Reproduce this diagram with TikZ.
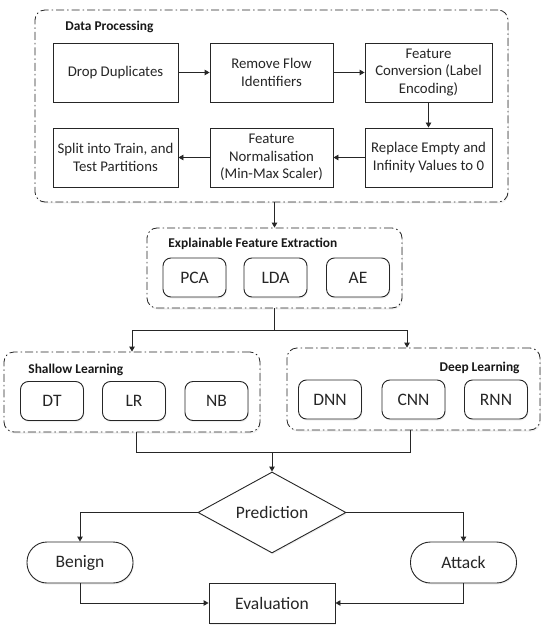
\documentclass[tikz,border=0pt]{standalone}
\usepackage{fontspec}
\setmainfont{Carlito}
\usetikzlibrary{shapes.geometric,arrows.meta,shadows}
\begin{document}
\begin{tikzpicture}[x=1pt,y=-1pt,
  line width=0.9pt,
  lc/.style={draw=black!85},
  shd/.style={drop shadow={opacity=0.12,shadow xshift=0.8pt,shadow yshift=-1.5pt}},
  proc/.style={lc, rectangle, minimum height=59pt, inner sep=1pt, align=center,
    text=black!85, font=\fontsize{14.8}{17.6}\selectfont},
  grp/.style={lc, fill=white, rectangle, rounded corners=10pt, line width=0.8pt,
    dash pattern=on 8pt off 3pt on 1.5pt off 3pt, shd},
  sbox/.style={lc, fill=white, rectangle, rounded corners=8pt, minimum width=63pt,
    minimum height=39pt, inner sep=1pt, text=black!85, font=\fontsize{17.5}{20}\selectfont, shd},
  glabel/.style={inner sep=0pt, text=black!90, font=\fontsize{13.4}{15}\selectfont\bfseries},
  term/.style={lc, fill=white, rectangle, rounded corners=20pt, minimum width=106pt,
    minimum height=41pt, inner sep=1pt, text=black!85, font=\fontsize{17.5}{20}\selectfont, shd},
  arr/.style={lc, -{Triangle[length=5pt,width=5.5pt]}},
  ln/.style={lc}
]
\useasboundingbox (0,0) rectangle (550,628);

% ---------- Data Processing ----------
\node[grp, minimum width=473pt, minimum height=192pt] (dp) at (271.5,106) {};
\node[glabel, anchor=west] (dplab) at (65,27) {Data Processing};

\node[proc, minimum width=125pt] (drop)   at (115.5,72.5) {Drop Duplicates};
\node[proc, minimum width=123pt] (remove) at (271.5,72.5) {Remove Flow\\Identifiers};
\node[proc, minimum width=127pt] (conv)   at (428.5,72.5) {Feature\\Conversion (Label\\Encoding)};
\node[proc, minimum width=127pt] (repl)   at (428.5,157.5) {Replace Empty and\\Infinity Values to 0};
\node[proc, minimum width=123pt] (norm)   at (271.5,157.5) {Feature\\Normalisation\\(Min-Max Scaler)};
\node[proc, minimum width=125pt] (split)  at (115.5,157.5) {Split into Train, and\\Test Partitions};

\draw[arr] (drop) -- (remove);
\draw[arr] (remove) -- (conv);
\draw[arr] (conv) -- (repl);
\draw[arr] (repl) -- (norm);
\draw[arr] (norm) -- (split);

% ---------- Explainable Feature Extraction ----------
\node[grp, minimum width=255pt, minimum height=80pt] (efe) at (274.5,268) {};
\node[glabel, anchor=west] (efelab) at (168,244) {Explainable Feature Extraction};
\node[sbox] (pca) at (194.5,277.5) {PCA};
\node[sbox] (lda) at (275.5,277.5) {LDA};
\node[sbox] (ae)  at (358,277.5) {AE};

\draw[arr] (dp.south -| efe.north) -- (efe.north);

% ---------- Shallow / Deep Learning ----------
\node[grp, minimum width=256pt, minimum height=80pt] (shallow) at (132,392) {};
\node[glabel, anchor=west] (shlab) at (28,370) {Shallow Learning};
\node[sbox] (dt) at (52,401) {DT};
\node[sbox] (lr) at (134,401) {LR};
\node[sbox] (nb) at (216.5,401) {NB};

\node[grp, minimum width=253pt, minimum height=82pt] (deep) at (413.5,389) {};
\node[glabel, anchor=east] (dllab) at (520,368) {Deep Learning};
\node[sbox] (dnn) at (330,399.5) {DNN};
\node[sbox] (cnn) at (413.5,399.5) {CNN};
\node[sbox] (rnn) at (496,399.5) {RNN};

\coordinate (split1) at (274.5,330);
\draw[arr] (efe.south) -- (split1) -| (shallow.north);
\draw[arr] (split1) -| ([xshift=-6.5pt]deep.north);

% ---------- Prediction ----------
\node[lc, fill=white, diamond, minimum width=148pt, minimum height=81pt, aspect=1.83, inner sep=0pt,
  text=black!85, font=\fontsize{17.5}{20}\selectfont, shd] (pred) at (272,512.5) {Prediction};

\coordinate (join) at (272,452);
\draw[ln] ([xshift=4pt]shallow.south) |- (join);
\draw[ln] ([xshift=-3.5pt]deep.south) |- (join);
\draw[arr] (join) -- (pred.north);

\node[term] (benign) at (80,562.5) {Benign};
\node[term] (attack) at (463.5,562.5) {Attack};
\node[lc, fill=white, rectangle, minimum width=126pt, minimum height=40pt, inner sep=1pt,
  text=black!85, font=\fontsize{17.5}{20}\selectfont, shd] (eval) at (272,603) {Evaluation};

\draw[arr] (pred.west) -| (benign.north);
\draw[arr] (pred.east) -| (attack.north);
\draw[arr] (benign.south) |- (eval.west);
\draw[arr] (attack.south) |- (eval.east);
\end{tikzpicture}
\end{document}
